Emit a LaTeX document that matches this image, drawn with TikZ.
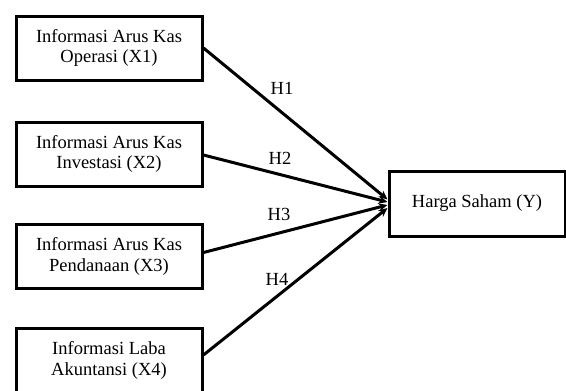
\documentclass[tikz,border=0pt]{standalone}
\usepackage{fontspec}
\setmainfont{Liberation Serif}
\usetikzlibrary{arrows.meta}
\begin{document}
\begin{tikzpicture}[x=1pt,y=-1pt,
  varbox/.style={draw=black, line width=3pt, rectangle, minimum width=186pt, minimum height=64pt, align=center, inner sep=0pt, font=\fontsize{18.5}{20.5}\selectfont},
  conn/.style={line width=3pt, -{Stealth[length=9pt,width=8pt]}},
  hlabel/.style={font=\fontsize{18.5}{20.5}\selectfont, inner sep=0pt}]
\useasboundingbox (0,0) rectangle (566,391);
\begin{scope}
\clip (0,0) rectangle (566,391);
\node[varbox] (X1) at (109,48) {Informasi Arus Kas\\Operasi (X1)};
\node[varbox] (X2) at (109,154) {Informasi Arus Kas\\Investasi (X2)};
\node[varbox] (X3) at (109,256.5) {Informasi Arus Kas\\Pendanaan (X3)};
\node[varbox, minimum height=65pt] (X4) at (109,360.5) {Informasi Laba\\Akuntansi (X4)};
\node[varbox, minimum width=176pt, minimum height=65pt] (Y) at (477,203.5) {Harga Saham (Y)};
\end{scope}
\draw[conn] (X1.east) -- ([yshift=4pt]Y.west);
\draw[conn] ([yshift=-1pt]X2.east) -- ([yshift=1.5pt]Y.west);
\draw[conn] ([yshift=4pt]X3.east) -- ([yshift=-1.5pt]Y.west);
\draw[conn] ([yshift=5.5pt]X4.east) -- ([yshift=-4.5pt]Y.west);
\node[hlabel] (H1) at (282,88) {H1};
\node[hlabel] (H2) at (280,158) {H2};
\node[hlabel] (H3) at (279,214) {H3};
\node[hlabel] (H4) at (277,279) {H4};
\end{tikzpicture}
\end{document}
